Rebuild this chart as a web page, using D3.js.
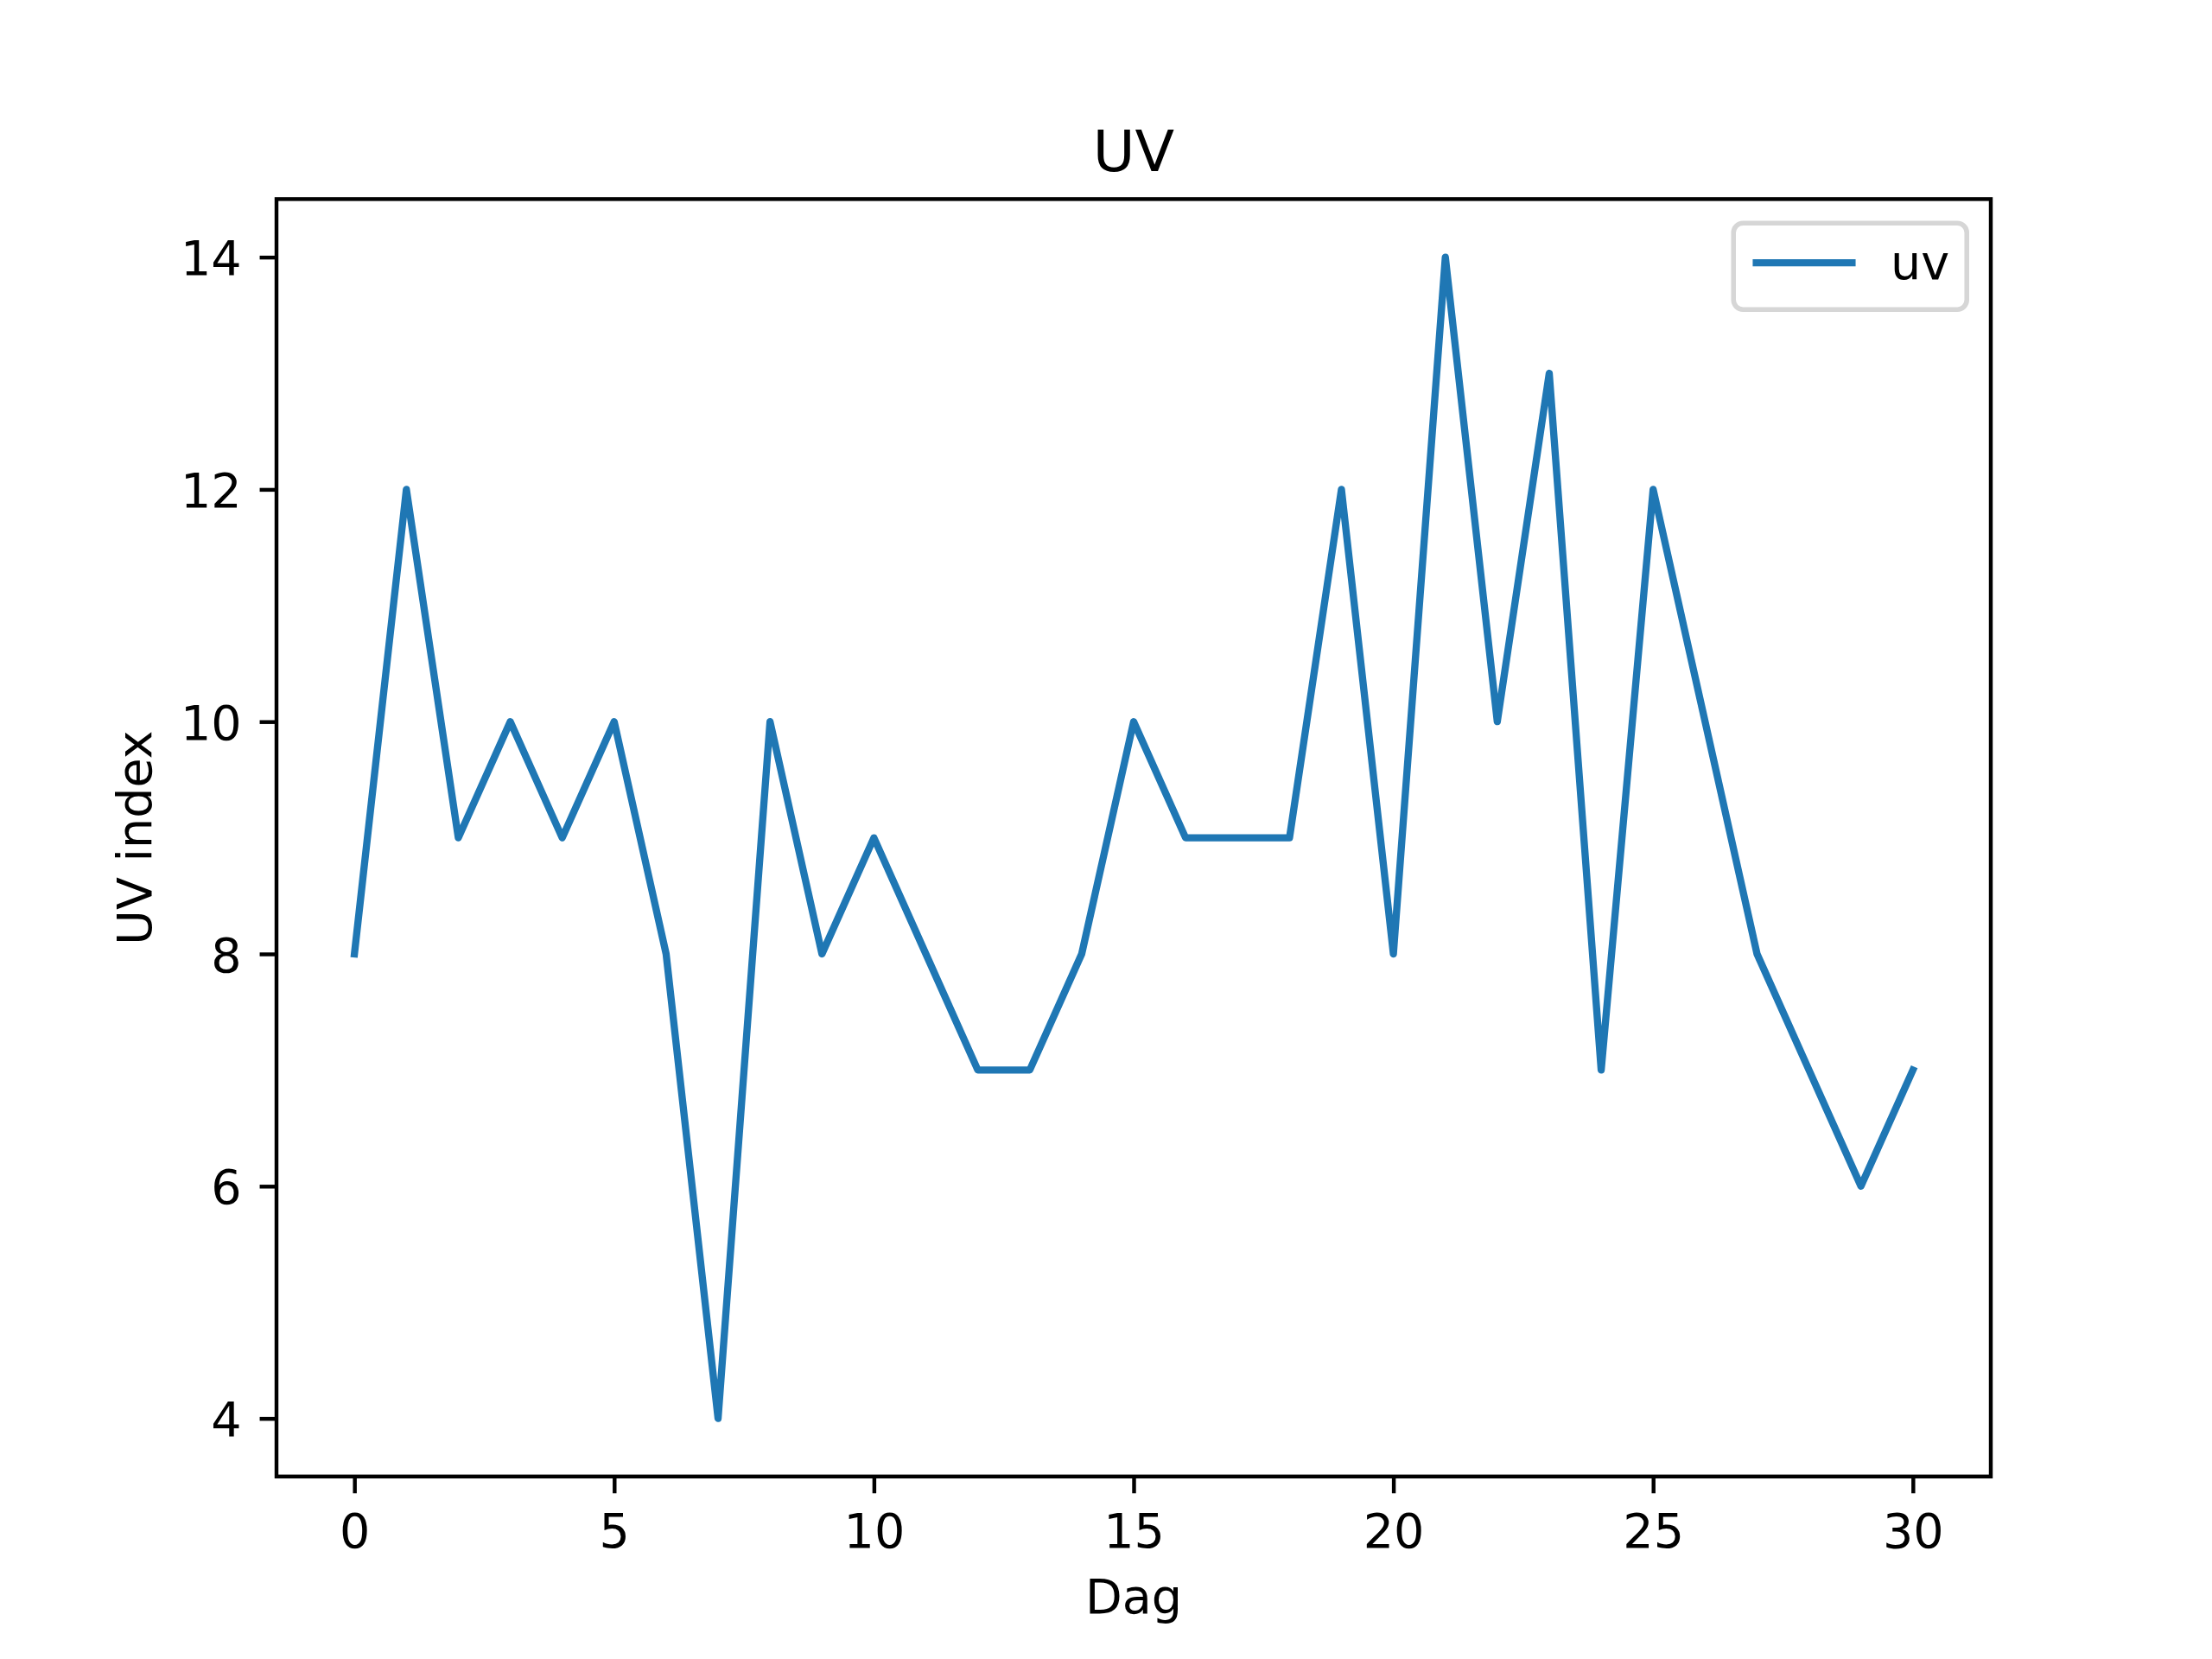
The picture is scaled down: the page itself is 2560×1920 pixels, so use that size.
<!DOCTYPE html>
<html>
<head>
<meta charset="utf-8">
<script src="https://cdn.jsdelivr.net/npm/d3@7"></script>
<style>
  html, body { margin: 0; padding: 0; background: #ffffff; }
  svg { display: block; }
  text { font-family: "DejaVu Sans", sans-serif; fill: #000; }
</style>
</head>
<body>
<svg id="chart" width="2560" height="1920"></svg>
<script>
// ---- data ----
const days = [0,1,2,3,4,5,6,7,8,9,10,11,12,13,14,15,16,17,18,19,20,21,22,23,24,25,26,27,28,29,30];
const uvValues = [8,12,9,10,9,10,8,4,10,8,9,8,7,7,8,10,9,9,9,12,8,14,10,13,7,12,10,8,7,6,7];
const xTicks = [0,5,10,15,20,25,30];
const yTicks = [4,6,8,10,12,14];
const titleText = "UV";
const xLabel = "Dag";
const yLabel = "UV index";
const seriesName = "uv";

(function () {
// ---- layout ----
const W = 2560, H = 1920;
const pLeft = 320, pRight = 2304, pTop = 230.4, pBottom = 1708.8;
const pt = 400 / 72;
const fs = 10 * pt;

const svg = d3.select("#chart");
svg.append("rect").attr("width", W).attr("height", H).attr("fill", "#fff");

const xMin = d3.min(days), xMax = d3.max(days);
const xPad = (xMax - xMin) * 0.05;
const yMin = d3.min(uvValues), yMax = d3.max(uvValues);
const yPad = (yMax - yMin) * 0.05;

const x = d3.scaleLinear().domain([xMin - xPad, xMax + xPad]).range([pLeft, pRight]);
const y = d3.scaleLinear().domain([yMin - yPad, yMax + yPad]).range([pBottom, pTop]);

// line
const line = d3.line().x((d, i) => x(days[i])).y(d => y(d));
svg.append("path")
  .datum(uvValues)
  .attr("d", line)
  .attr("fill", "none")
  .attr("stroke", "#1f77b4")
  .attr("stroke-width", 1.5 * pt)
  .attr("stroke-linejoin", "round")
  .attr("stroke-linecap", "square");

// axes
const tickLen = 3.5 * pt;
const xAxis = d3.axisBottom(x).tickValues(xTicks).tickFormat(d3.format("d"))
  .tickSize(tickLen).tickSizeOuter(0).tickPadding(24);
const gx = svg.append("g").attr("transform", `translate(0,${pBottom})`).call(xAxis);
gx.select(".domain").remove();
gx.selectAll(".tick line").attr("stroke", "#000").attr("stroke-width", 0.8 * pt);
gx.selectAll(".tick text").attr("font-size", fs).attr("font-family", "DejaVu Sans")
  .attr("fill", "#000").attr("y", 82.5).attr("dy", 0);

const yAxis = d3.axisLeft(y).tickValues(yTicks).tickFormat(d3.format("d"))
  .tickSize(tickLen).tickSizeOuter(0).tickPadding(21);
const gy = svg.append("g").attr("transform", `translate(${pLeft},0)`).call(yAxis);
gy.select(".domain").remove();
gy.selectAll(".tick line").attr("stroke", "#000").attr("stroke-width", 0.8 * pt);
gy.selectAll(".tick text").attr("font-size", fs).attr("font-family", "DejaVu Sans")
  .attr("fill", "#000").attr("dy", "0.36em");

// frame (spines)
svg.append("rect")
  .attr("x", pLeft).attr("y", pTop)
  .attr("width", pRight - pLeft).attr("height", pBottom - pTop)
  .attr("fill", "none").attr("stroke", "#000").attr("stroke-width", 0.8 * pt)
  .attr("stroke-linejoin", "miter");

// title & labels
svg.append("text").attr("x", (pLeft + pRight) / 2).attr("y", 198)
  .attr("text-anchor", "middle").attr("font-size", 12 * pt).text(titleText);
svg.append("text").attr("x", (pLeft + pRight) / 2).attr("y", 1867)
  .attr("text-anchor", "middle").attr("font-size", fs).text(xLabel);
svg.append("text")
  .attr("transform", `translate(175,${(pTop + pBottom) / 2}) rotate(-90)`)
  .attr("text-anchor", "middle").attr("font-size", fs).text(yLabel);

// legend
const pad = 0.5 * fs;
const lgW = 270, lgH = 100;
const lgX = pRight - pad - lgW, lgY = pTop + pad;
const lg = svg.append("g");
lg.append("rect")
  .attr("x", lgX).attr("y", lgY).attr("width", lgW).attr("height", lgH)
  .attr("rx", 0.2 * fs).attr("ry", 0.2 * fs)
  .attr("fill", "#fff").attr("fill-opacity", 0.8)
  .attr("stroke", "#d6d6d6").attr("stroke-width", 1.0 * pt);
lg.append("line")
  .attr("x1", lgX + 0.4 * fs).attr("x2", lgX + 0.4 * fs + 2.0 * fs + 8)
  .attr("y1", lgY + 46).attr("y2", lgY + 46)
  .attr("stroke", "#1f77b4").attr("stroke-width", 1.5 * pt)
  .attr("stroke-linecap", "butt");
lg.append("text").attr("x", 2188).attr("y", lgY + 65)
  .attr("font-size", fs).text(seriesName);
})();
</script>
</body>
</html>
